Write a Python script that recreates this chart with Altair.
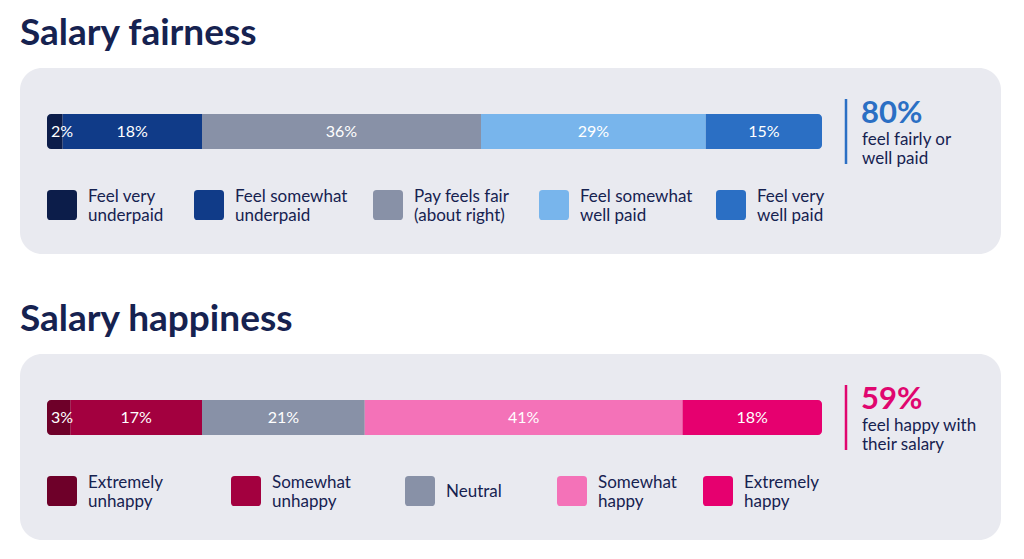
import altair as alt
import pandas as pd

# ---------------- data ----------------
fair_title = "Salary fairness"
fair_cats = ["Feel very\nunderpaid", "Feel somewhat\nunderpaid", "Pay feels fair\n(about right)",
             "Feel somewhat\nwell paid", "Feel very\nwell paid"]
fair_pct = [2, 18, 36, 29, 15]
fair_caption = "feel fairly or\nwell paid"

happy_title = "Salary happiness"
happy_cats = ["Extremely\nunhappy", "Somewhat\nunhappy", "Neutral", "Somewhat\nhappy", "Extremely\nhappy"]
happy_pct = [3, 17, 21, 41, 18]
happy_caption = "feel happy with\ntheir salary"

# ---------------- layout / styles ----------------
FONT = "Lato"
NAVY = "#162250"
BOX = "#e9eaf0"
fair_colors = ["#0c1d4a", "#103b88", "#8891a7", "#78b5ec", "#2b6fc4"]
happy_colors = ["#6e0029", "#a3003f", "#8891a7", "#f472b8", "#e6006f"]
FAIR_ACCENT = "#2b6fc4"
HAPPY_ACCENT = "#e0066f"
FAIR_LEGEND_X = [27, 174, 353, 519, 696]    # left edge of each legend swatch (px in panel)
HAPPY_LEGEND_X = [27, 211, 385, 537, 683]

ROUND_SQ = ("M -0.76,-1 L 0.76,-1 Q 1,-1 1,-0.76 L 1,0.76 Q 1,1 0.76,1 L -0.76,1 "
            "Q -1,1 -1,0.76 L -1,-0.76 Q -1,-1 -0.76,-1 Z")

W, H = 981, 186


def panel(title, cats, pcts, colors, caption, accent, big_idx, legend_x):
    n = len(cats)
    df = pd.DataFrame({"cat": cats, "pct": pcts, "order": list(range(n))})
    df["end"] = df["pct"].cumsum()
    df["start"] = df["end"] - df["pct"]
    df["mid"] = (df["start"] + df["end"]) / 2
    df["label"] = df["pct"].astype(str) + "%"
    df["sx"] = [v + 15 for v in legend_x]
    df["tx"] = [v + 41 for v in legend_x]

    total = int(sum(pcts[i] for i in big_idx))
    summ = pd.DataFrame({"big": [f"{total}%"], "caption": [caption]})

    xs = alt.Scale(domain=[0, 100], range=[27, 802])
    color = alt.Color("cat:N", scale=alt.Scale(domain=cats, range=colors), legend=None)
    base = alt.Chart(df)
    enc = dict(x=alt.X("start:Q", scale=xs, axis=None), x2="end:Q",
               y=alt.value(46), y2=alt.value(81), color=color)
    bar_mid = base.transform_filter(f"datum.order > 0 && datum.order < {n-1}").mark_rect().encode(**enc)
    bar_first = base.transform_filter("datum.order == 0").mark_rect(
        cornerRadiusTopLeft=4, cornerRadiusBottomLeft=4).encode(**enc)
    bar_last = base.transform_filter(f"datum.order == {n-1}").mark_rect(
        cornerRadiusTopRight=4, cornerRadiusBottomRight=4).encode(**enc)

    lab_big = base.transform_filter("datum.pct >= 5").mark_text(
        font=FONT, fontSize=16, color="white", baseline="middle", align="center"
    ).encode(x=alt.X("mid:Q", scale=xs), y=alt.value(64), text="label:N")
    lab_small = base.transform_filter("datum.pct < 5").mark_text(
        font=FONT, fontSize=16, color="white", baseline="middle", align="left", dx=4
    ).encode(x=alt.X("start:Q", scale=xs), y=alt.value(64), text="label:N")

    # legend (swatches + labels)
    swatch = base.mark_point(shape=ROUND_SQ, size=900, filled=True, opacity=1, strokeWidth=0).encode(
        x=alt.X("sx:Q", scale=None), y=alt.value(137), color=color)
    leg_multi = base.transform_filter("indexof(datum.cat, '\\n') >= 0").mark_text(
        font=FONT, fontSize=17, color=NAVY, align="left", baseline="alphabetic",
        lineBreak="\n", lineHeight=19).encode(
        x=alt.X("tx:Q", scale=None), y=alt.value(134), text="cat:N")
    leg_single = base.transform_filter("indexof(datum.cat, '\\n') < 0").mark_text(
        font=FONT, fontSize=17, color=NAVY, align="left", baseline="alphabetic").encode(
        x=alt.X("tx:Q", scale=None), y=alt.value(143), text="cat:N")

    sb = alt.Chart(summ)
    rule = sb.mark_rule(color=accent, strokeWidth=2.5).encode(
        x=alt.value(826), y=alt.value(31), y2=alt.value(96))
    big = sb.mark_text(font=FONT, fontSize=31, fontWeight="bold", color=accent,
                       align="left", baseline="alphabetic").encode(
        x=alt.value(841), y=alt.value(55), text="big:N")
    cap = sb.mark_text(font=FONT, fontSize=17, color=NAVY, align="left",
                       baseline="alphabetic", lineBreak="\n", lineHeight=19).encode(
        x=alt.value(842), y=alt.value(77), text="caption:N")

    return alt.layer(bar_mid, bar_first, bar_last, lab_big, lab_small,
                     swatch, leg_multi, leg_single, rule, big, cap).properties(
        width=W, height=H,
        title=alt.TitleParams(title, anchor="start", font=FONT, fontSize=37, fontWeight="bold",
                              color=NAVY, offset=-14, baseline="alphabetic"),
    )


p1 = panel(fair_title, fair_cats, fair_pct, fair_colors, fair_caption, FAIR_ACCENT, [2, 3, 4], FAIR_LEGEND_X)
p2 = panel(happy_title, happy_cats, happy_pct, happy_colors, happy_caption, HAPPY_ACCENT, [3, 4], HAPPY_LEGEND_X)

chart = alt.vconcat(p1, p2, spacing=47).resolve_scale(color="independent", x="independent").properties(
    padding={"left": 12, "top": 7, "right": 4, "bottom": 4},
    background="white",
).configure_view(fill=BOX, stroke=None, cornerRadius=22)

chart.save("out.html", embed_options={"renderer": "svg", "actions": False})
